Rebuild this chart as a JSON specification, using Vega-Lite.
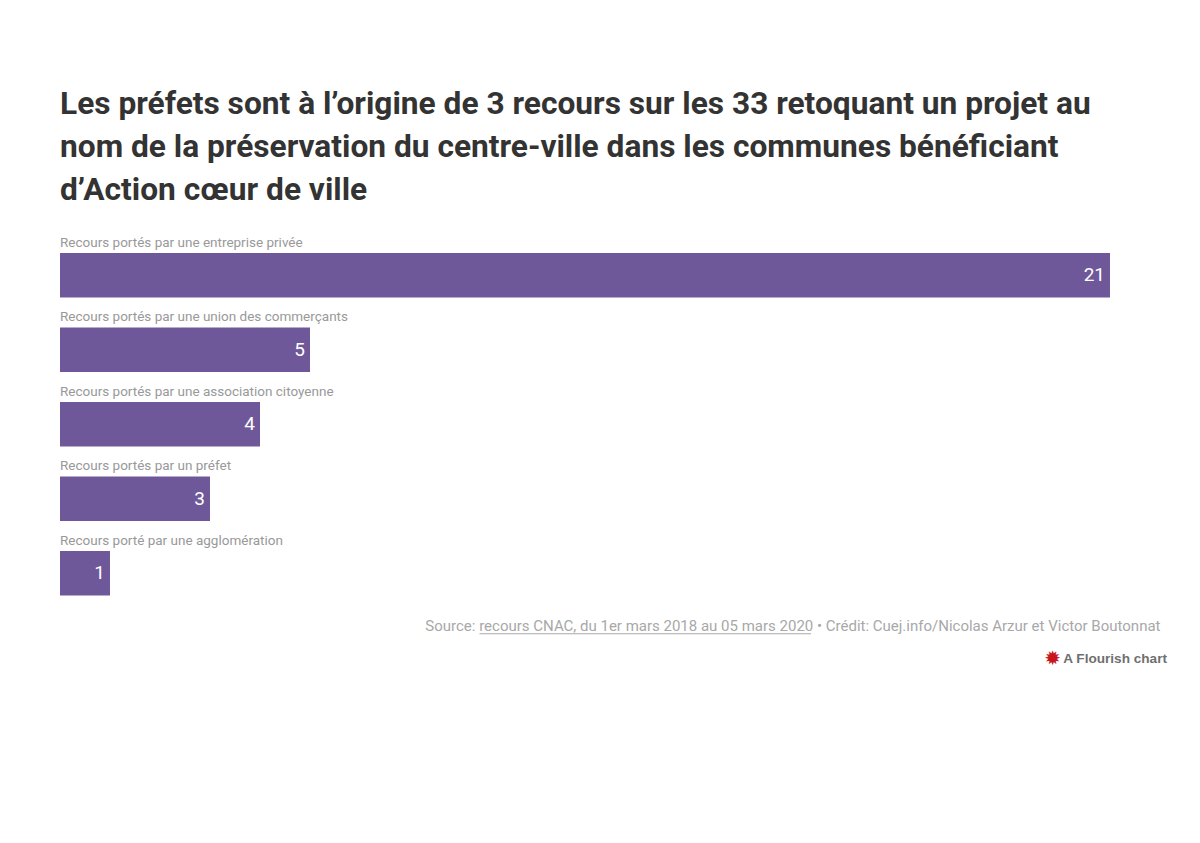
{"$schema":"https://vega.github.io/schema/vega-lite/v6.json","width":1050,"height":372.5,"padding":{"left":60,"top":238,"right":90,"bottom":232.5},"autosize":"none","background":"white","view":{"stroke":null},"title":{"text":["Les préfets sont à l’origine de 3 recours sur les 33 retoquant un projet au","nom de la préservation du centre-ville dans les communes bénéficiant","d’Action cœur de ville"],"anchor":"start","frame":"group","font":"Roboto","fontSize":31.7,"fontWeight":"bold","color":"#333333","lineHeight":43,"offset":29},"data":{"values":[{"categorie":"Recours portés par une entreprise privée","recours":21},{"categorie":"Recours portés par une union des commerçants","recours":5},{"categorie":"Recours portés par une association citoyenne","recours":4},{"categorie":"Recours portés par un préfet","recours":3},{"categorie":"Recours porté par une agglomération","recours":1}]},"layer":[{"mark":{"type":"bar","color":"#6f5899"},"encoding":{"y":{"field":"categorie","type":"nominal","sort":null,"axis":null,"scale":{"paddingInner":0.4027,"paddingOuter":0.2013}},"x":{"field":"recours","type":"quantitative","scale":{"domain":[0,21],"nice":false},"axis":{"title":"Source: recours CNAC, du 1er mars 2018 au 05 mars 2020 • Crédit: Cuej.info/Nicolas Arzur et Victor Boutonnat","titleFont":"Roboto","titleFontSize":15,"titleFontWeight":"normal","titleColor":"#a8a8a8","titleAlign":"right","titleX":1100,"titleY":8,"labels":false,"ticks":false,"domain":false,"grid":false}}}},{"mark":{"type":"text","align":"right","baseline":"middle","dx":-5,"color":"white","font":"Roboto","fontSize":19},"encoding":{"y":{"field":"categorie","type":"nominal","sort":null},"x":{"field":"recours","type":"quantitative"},"text":{"field":"recours","type":"quantitative"}}},{"mark":{"type":"text","align":"left","baseline":"middle","dy":-32.5,"color":"#999999","font":"Roboto","fontSize":13.5},"encoding":{"y":{"field":"categorie","type":"nominal","sort":null},"x":{"datum":0,"type":"quantitative"},"text":{"field":"categorie","type":"nominal"}}},{"data":{"values":[{"debut":8.39,"fin":15.02}]},"mark":{"type":"rule","color":"#a8a8a8","strokeWidth":1,"yOffset":60.5},"encoding":{"y":{"datum":"Recours porté par une agglomération","type":"nominal","sort":null},"x":{"field":"debut","type":"quantitative"},"x2":{"field":"fin"}}},{"data":{"values":[{"position":19.85,"logo":"✹"}]},"mark":{"type":"text","align":"center","baseline":"middle","yOffset":86,"color":"#c8161d","font":"DejaVu Sans","fontSize":20},"encoding":{"y":{"datum":"Recours porté par une agglomération","type":"nominal","sort":null},"x":{"field":"position","type":"quantitative"},"text":{"field":"logo"}}},{"data":{"values":[{"position":22.14,"credit":"A Flourish chart"}]},"mark":{"type":"text","align":"right","baseline":"middle","yOffset":86,"color":"#6f6f6f","font":"Liberation Sans","fontSize":13.6,"fontWeight":"bold"},"encoding":{"y":{"datum":"Recours porté par une agglomération","type":"nominal","sort":null},"x":{"field":"position","type":"quantitative"},"text":{"field":"credit"}}}]}
